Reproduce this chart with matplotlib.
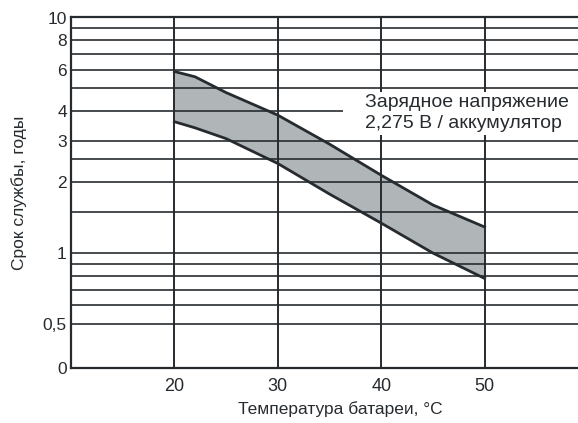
"""Battery service life vs temperature chart."""

import matplotlib

matplotlib.use("Agg")
from matplotlib import pyplot as plt  # noqa: E402
from matplotlib.patches import Rectangle  # noqa: E402
from matplotlib.ticker import FixedLocator, FixedFormatter, NullLocator  # noqa: E402

plt.rcParams["font.family"] = ["Liberation Sans", "DejaVu Sans"]

# band boundaries
temps = [20, 22, 25, 30, 35, 40, 45, 50]
life_upper = [5.9, 5.6, 4.8, 3.85, 2.9, 2.14, 1.6, 1.29]
life_lower = [3.61, 3.4, 3.06, 2.4, 1.78, 1.34, 1.0, 0.78]

grid_y = [0.5, 0.6, 0.7, 0.8, 0.9, 1, 1.5, 2, 2.5, 3, 4, 5, 6, 7, 8, 9, 10]
grid_x = [20, 30, 40, 50]
ytick_vals = [0.325, 0.5, 1, 2, 3, 4, 6, 8, 10]
ytick_labels = ["0", "0,5", "1", "2", "3", "4", "6", "8", "10"]
xtick_vals = [20, 30, 40, 50]

_INK = "#262b2f"
_BAND = "#b0b5b8"

fig = plt.figure(figsize=(5.78, 4.23), dpi=100, facecolor="white")
ax = fig.add_axes([71 / 578, 55 / 423, 517 / 578, 350.5 / 423])

ax.set_yscale("log")
ax.set_xlim(10, 60)
ax.set_ylim(0.325, 10)

ax.fill_between(temps, life_lower, life_upper, facecolor=_BAND,
                edgecolor="none", zorder=1)
for val in grid_y:
    ax.axhline(val, color=_INK, linewidth=1.4, alpha=0.85, zorder=2)
for val in grid_x:
    ax.axvline(val, color=_INK, linewidth=1.4, zorder=2)
ax.plot(temps, life_upper, color=_INK, linewidth=2.0, zorder=3,
        solid_joinstyle="round")
ax.plot(temps, life_lower, color=_INK, linewidth=2.0, zorder=3,
        solid_joinstyle="round")

# white patch behind the annotation, cutting the grid
ax.add_patch(Rectangle((36.3, 3.16), 30, 4.85 - 3.16, facecolor="white",
                       edgecolor="none", zorder=4))
ax.text(38.4, 3.93, "Зарядное напряжение\n2,275 В / аккумулятор",
        fontsize=14, color=_INK, ha="left", va="center", linespacing=1.25,
        zorder=5)

ax.yaxis.set_major_locator(FixedLocator(ytick_vals))
ax.yaxis.set_major_formatter(FixedFormatter(ytick_labels))
ax.yaxis.set_minor_locator(NullLocator())
ax.set_xticks(xtick_vals)
ax.tick_params(axis="both", length=0, labelcolor=_INK)
ax.tick_params(axis="y", pad=3, labelsize=12.5)
ax.tick_params(axis="x", pad=7, labelsize=13)

for side in ("left", "bottom", "top"):
    ax.spines[side].set_color(_INK)
    ax.spines[side].set_linewidth(1.6)
ax.spines["right"].set_visible(False)

ax.set_ylabel("Срок службы, годы", fontsize=12.5, color=_INK)
ax.yaxis.set_label_coords(-0.085, 0.5)
ax.set_xlabel("Температура батареи, °C", fontsize=12.5, color=_INK)
ax.xaxis.set_label_coords(0.52, -0.095)

fig.savefig("out.png", dpi=100, facecolor="white")
plt.close(fig)
